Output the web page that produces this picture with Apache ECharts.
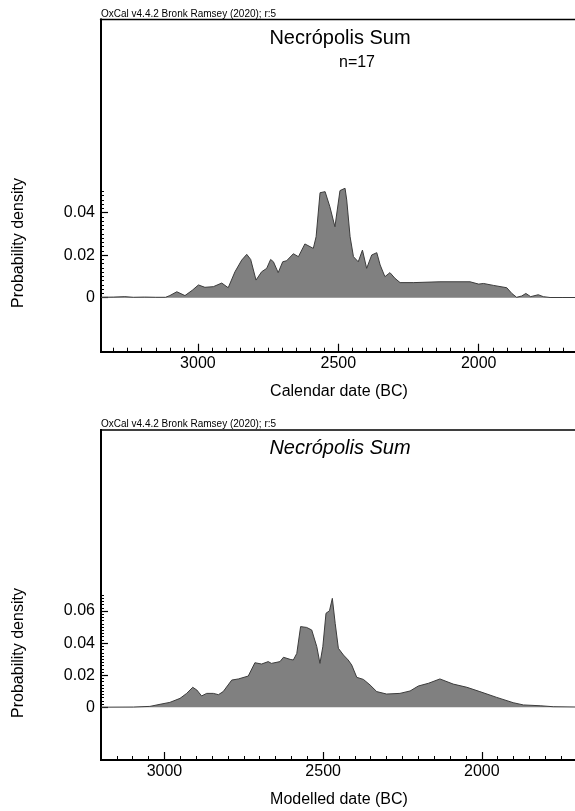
<!DOCTYPE html>
<html>
<head>
<meta charset="utf-8">
<title>Necrópolis Sum</title>
<script src="https://cdn.jsdelivr.net/npm/echarts@6/dist/echarts.min.js"></script>
<style>
  html, body { margin: 0; padding: 0; background: #fff; }
  #chart { width: 575px; height: 811px; }
</style>
</head>
<body>
<div id="chart"></div>
<script>
// 上图：Calendar date (BC)
var calYears = [3345, 3300, 3260, 3230, 3190, 3150, 3115, 3100, 3075, 3046, 3020, 2998, 2975, 2945, 2915, 2892,
    2868, 2844, 2826, 2812, 2793, 2773, 2755, 2741, 2731, 2714, 2698, 2684, 2660, 2642, 2619, 2589, 2579,
    2565, 2547, 2530, 2512, 2494, 2476, 2470, 2458, 2446, 2429, 2414, 2399, 2381, 2363, 2351, 2334, 2316,
    2298, 2280, 2233, 2138, 2031, 2000, 1983, 1948, 1900, 1882, 1865, 1847, 1832, 1815, 1788, 1770, 1746,
    1700, 1650];
var calDensity = [0.0002, 0.0003, 0.0005, 0.0002, 0.0003, 0.0002, 0.0002, 0.0010, 0.0028, 0.0010, 0.0035, 0.0060,
    0.0049, 0.0052, 0.0069, 0.0047, 0.0122, 0.0177, 0.0204, 0.0180, 0.0083, 0.0122, 0.0138, 0.0180, 0.0169,
    0.0118, 0.0169, 0.0174, 0.0207, 0.0193, 0.0253, 0.0232, 0.0287, 0.0494, 0.0499, 0.0428, 0.0334, 0.0504,
    0.0515, 0.0460, 0.0287, 0.0193, 0.0169, 0.0224, 0.0138, 0.0201, 0.0212, 0.0154, 0.0099, 0.0118, 0.0091,
    0.0071, 0.0071, 0.0075, 0.0075, 0.0064, 0.0067, 0.0058, 0.0047, 0.0020, 0.0002, 0.0008, 0.0020, 0.0005,
    0.0014, 0.0005, 0.0001, 0.0001, 0.0001];

// 下图：Modelled date (BC)
var modYears = [3200, 3098, 3046, 3014, 2983, 2951, 2930, 2911, 2898, 2883, 2867, 2846, 2830, 2815, 2788, 2767,
    2736, 2715, 2694, 2673, 2663, 2636, 2625, 2604, 2594, 2583, 2571, 2552, 2536, 2520, 2510, 2501, 2491,
    2480, 2471, 2462, 2452, 2436, 2421, 2410, 2394, 2373, 2352, 2331, 2300, 2258, 2226, 2200, 2168, 2132,
    2090, 2047, 2006, 1953, 1901, 1869, 1816, 1775, 1700];
var modDensity = [0.0001, 0.0002, 0.0006, 0.0019, 0.0031, 0.0056, 0.0087, 0.0125, 0.0108, 0.0071, 0.0087, 0.0087,
    0.0079, 0.0098, 0.0170, 0.0177, 0.0195, 0.0278, 0.0270, 0.0285, 0.0274, 0.0285, 0.0312, 0.0299, 0.0295,
    0.0336, 0.0503, 0.0498, 0.0482, 0.0378, 0.0274, 0.0378, 0.0586, 0.0602, 0.0679, 0.0523, 0.0368, 0.0326,
    0.0295, 0.0264, 0.0187, 0.0174, 0.0139, 0.0098, 0.0083, 0.0087, 0.0102, 0.0133, 0.0150, 0.0177, 0.0145,
    0.0125, 0.0098, 0.0062, 0.0029, 0.0015, 0.0010, 0.0004, 0.0002];

// 刻度
var yearLabels = [2000, 2500, 3000];
var calYLabels = [0, 0.02, 0.04];
var modYLabels = [0, 0.02, 0.04, 0.06];
var calYTop = 0.05;
var modYTop = 0.07;

var FONT = 'Liberation Sans, Arial, sans-serif';

// 简单的深拷贝合并
function extend(target) {
    for (var k = 1; k < arguments.length; k++) {
        var src = arguments[k];
        for (var key in src) {
            var v = src[key];
            if (v && typeof v === 'object' && !Array.isArray(v)) {
                target[key] = extend(target[key] && typeof target[key] === 'object' ? target[key] : {}, v);
            } else {
                target[key] = v;
            }
        }
    }
    return target;
}

function minorTicks(top) {
    var arr = [];
    for (var i = 0; i * 0.002 <= top + 1e-9; i++) {
        arr.push(+(i * 0.002).toFixed(3));
    }
    return arr;
}

function pairs(xs, ys) {
    return xs.map(function (x, i) { return [x, ys[i]]; });
}

function plain(v) { return String(v); }

function xAxes(gridIndex, min, max, name) {
    var base = {
        gridIndex: gridIndex,
        type: 'value',
        position: 'bottom',
        inverse: true,
        min: min,
        max: max,
        splitLine: { show: false },
        axisLine: { onZero: false, lineStyle: { color: '#000', width: 2 } }
    };
    var minor = extend({}, base, {
        interval: 50,
        axisTick: { inside: true, length: 4, lineStyle: { color: '#000', width: 1 } },
        axisLabel: { show: false }
    });
    var major = extend({}, base, {
        name: name,
        nameLocation: 'middle',
        nameGap: 32,
        nameTextStyle: { color: '#000', fontSize: 16, fontFamily: FONT },
        axisTick: { inside: true, length: 8, customValues: yearLabels, lineStyle: { color: '#000', width: 1.2 } },
        axisLabel: { customValues: yearLabels, formatter: plain, margin: 4, color: '#000', fontSize: 16, fontFamily: FONT }
    });
    return [minor, major];
}

function yAxes(gridIndex, min, max, labels, top) {
    var base = {
        gridIndex: gridIndex,
        type: 'value',
        position: 'left',
        min: min,
        max: max,
        splitLine: { show: false },
        axisLine: { onZero: false, lineStyle: { color: '#000', width: 2 } }
    };
    var minor = extend({}, base, {
        axisTick: { inside: true, length: 3, customValues: minorTicks(top), lineStyle: { color: '#000', width: 1 } },
        axisLabel: { show: false }
    });
    var major = extend({}, base, {
        axisTick: { inside: true, length: 7, customValues: labels, lineStyle: { color: '#000', width: 1.2 } },
        axisLabel: { customValues: labels, formatter: plain, margin: 6, color: '#000', fontSize: 16, fontFamily: FONT }
    });
    return [minor, major];
}

var areaSeries = {
    type: 'line',
    showSymbol: false,
    silent: true,
    lineStyle: { color: '#3c3c3c', width: 1 },
    areaStyle: { color: '#808080', opacity: 1 }
};

var myChart = echarts.init(document.getElementById('chart'), null, { renderer: 'canvas' });

var option = {
    animation: false,
    backgroundColor: '#fff',
    grid: [
        { left: 101, top: 19.5, width: 476, height: 332.2, outerBoundsMode: 'none', containLabel: false,
          show: true, borderColor: '#000', borderWidth: 1.5 },
        { left: 101, top: 430, width: 476, height: 330, outerBoundsMode: 'none', containLabel: false,
          show: true, borderColor: '#000', borderWidth: 1.5 }
    ],
    xAxis: xAxes(0, 1650, 3345, 'Calendar date (BC)').concat(xAxes(1, 1700, 3200, 'Modelled date (BC)')),
    yAxis: yAxes(0, -0.0254, 0.1309, calYLabels, calYTop).concat(yAxes(1, -0.0328, 0.1728, modYLabels, modYTop)),
    series: [
        extend({}, areaSeries, { xAxisIndex: 0, yAxisIndex: 0, data: pairs(calYears, calDensity) }),
        extend({}, areaSeries, { xAxisIndex: 2, yAxisIndex: 2, data: pairs(modYears, modDensity) })
    ],
    graphic: [
        { type: 'text', x: 101, y: 14, style: { text: 'OxCal v4.4.2 Bronk Ramsey (2020); r:5', font: '10px ' + FONT, fill: '#000', verticalAlign: 'middle' } },
        { type: 'text', x: 340, y: 38, style: { text: 'Necrópolis Sum', font: '20px ' + FONT, fill: '#000', align: 'center', verticalAlign: 'middle' } },
        { type: 'text', x: 357, y: 63, style: { text: 'n=17', font: '16px ' + FONT, fill: '#000', align: 'center', verticalAlign: 'middle' } },
        { type: 'text', x: 19, y: 243, rotation: Math.PI / 2, style: { text: 'Probability density', font: '16px ' + FONT, fill: '#000', align: 'center', verticalAlign: 'middle' } },

        { type: 'text', x: 101, y: 424.5, style: { text: 'OxCal v4.4.2 Bronk Ramsey (2020); r:5', font: '10px ' + FONT, fill: '#000', verticalAlign: 'middle' } },
        { type: 'text', x: 340, y: 448, style: { text: 'Necrópolis Sum', font: 'italic 20px ' + FONT, fill: '#000', align: 'center', verticalAlign: 'middle' } },
        { type: 'text', x: 19, y: 653, rotation: Math.PI / 2, style: { text: 'Probability density', font: '16px ' + FONT, fill: '#000', align: 'center', verticalAlign: 'middle' } }
    ]
};

myChart.setOption(option);
</script>
</body>
</html>
